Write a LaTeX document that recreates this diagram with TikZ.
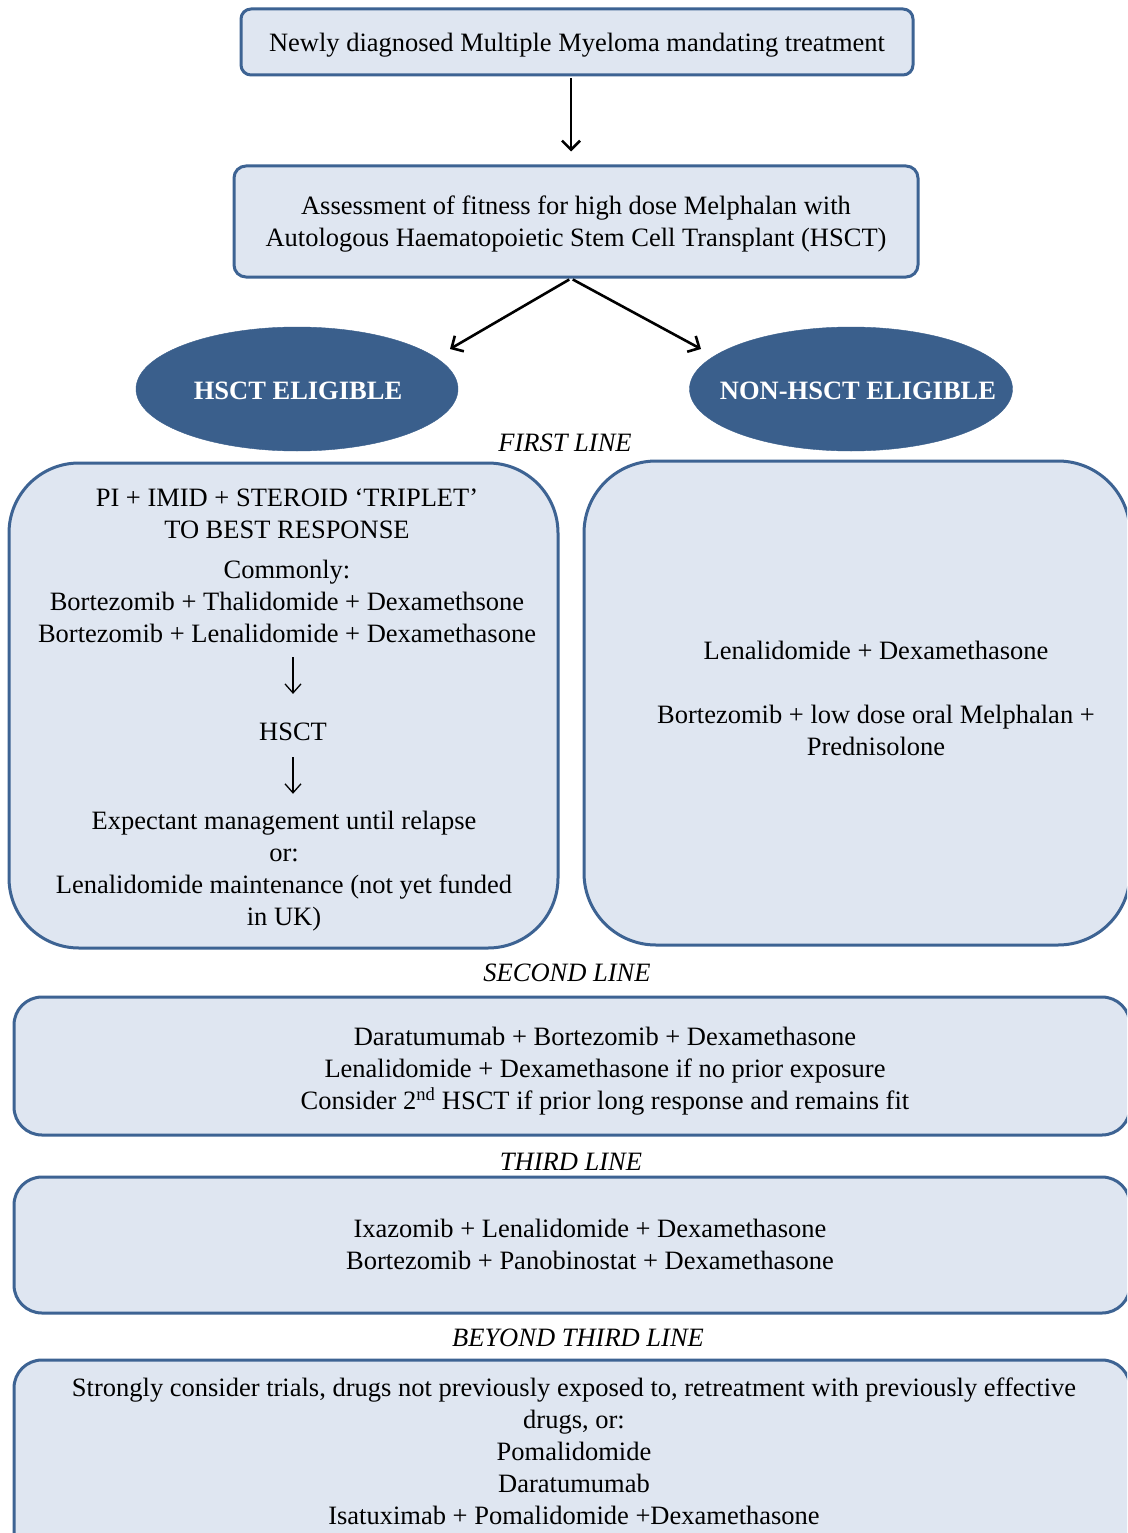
\documentclass[tikz,border=0pt]{standalone}
\usepackage{fontspec}
\setmainfont{Liberation Serif}
\usetikzlibrary{arrows.meta,shapes.geometric}
\definecolor{bd}{HTML}{3D6393}
\definecolor{fl}{HTML}{DFE6F1}
\definecolor{el}{HTML}{3A5F8C}
\begin{document}
\begin{tikzpicture}[x=1pt,y=-1pt,
  txt/.style={font=\fontsize{26.5}{32}\selectfont, align=center, inner sep=0pt},
  lbl/.style={font=\fontsize{26.5}{32}\selectfont\itshape, inner sep=0pt},
  box/.style={draw=bd, fill=fl, line width=3pt, inner sep=0pt},
  oval/.style={ellipse, fill=el, draw=el, inner sep=0pt},
  ovaltxt/.style={inner sep=0pt, text=white, font=\fontsize{26.5}{32}\selectfont\bfseries},
  bigarrow/.style={draw=black, line width=2.6pt, -{Straight Barb[length=9pt,width=18pt,line width=2.6pt]}},
  smallarrow/.style={draw=black, line width=1.3pt, -{Straight Barb[length=9pt,width=16pt,line width=1.3pt]}}]
\useasboundingbox (0,0) rectangle (1127,1533);
\clip (0,0) rectangle (1127,1533);
\fill[white] (0,0) rectangle (1127,1533);

% top boxes
\node[box, txt, text depth=0pt, rounded corners=10pt, minimum width=672pt, minimum height=66pt] (top) at (577,42)
  {Newly diagnosed Multiple Myeloma mandating treatment};
\node[box, txt, text depth=0pt, rounded corners=12pt, minimum width=684pt, minimum height=111pt] (assess) at (576,221.5)
  {Assessment of fitness for high dose Melphalan with\\Autologous Haematopoietic Stem Cell Transplant (HSCT)};

% ellipses
\node[oval, minimum width=322pt, minimum height=124pt] (elig) at (297,389) {};
\node[ovaltxt] (eligt) at (298,391) {HSCT ELIGIBLE};
\node[oval, minimum width=323pt, minimum height=124pt] (nonelig) at (851,389) {};
\node[ovaltxt] (noneligt) at (858,391) {NON-HSCT ELIGIBLE};

\coordinate (t1) at (450,349);
\coordinate (t2) at (701,349);
\draw[bigarrow, shorten >=13pt, shorten <=2pt] ([xshift=-6pt]top.south) -- ([xshift=-5pt]assess.north);
\draw[bigarrow, shorten <=2pt] ([xshift=-5pt]assess.south) -- (t1);
\draw[bigarrow, shorten <=2pt] ([xshift=-5pt]assess.south) -- (t2);

% section labels
\node[lbl] (l1) at (565,443) {FIRST LINE};
\node[lbl] (l2) at (567,973) {SECOND LINE};
\node[lbl] (l3) at (571,1162) {THIRD LINE};
\node[lbl] (l4) at (578,1338) {BEYOND THIRD LINE};

% first line boxes
\node[box, rounded corners=70pt, minimum width=549pt, minimum height=485pt] (left) at (283.5,705.5) {};
\node[box, rounded corners=72pt, minimum width=546pt, minimum height=484pt] (right) at (857,703) {};

\node[txt] (g1) at (287,566) {PI + IMID + STEROID ‘TRIPLET’\\TO BEST RESPONSE\\[8pt]Commonly:\\Bortezomib + Thalidomide + Dexamethsone\\Bortezomib + Lenalidomide + Dexamethasone};
\node[txt] (hs) at (293,732) {HSCT};
\node[txt] (g3) at (284,871) {Expectant management until relapse\\or:\\Lenalidomide maintenance (not yet funded\\in UK)};
\draw[smallarrow, shorten <=14pt, shorten >=29pt] (g1.south -| hs.north) -- (hs.north);
\draw[smallarrow, shorten <=16pt, shorten >=17pt] (hs.south) -- (g3.north -| hs.south);

\node[txt] (rt) at (876,698) {Lenalidomide + Dexamethasone\\[32pt]Bortezomib + low dose oral Melphalan +\\Prednisolone};

% second line
\node[box, rounded corners=28pt, minimum width=1116pt, minimum height=138pt] (second) at (572,1066) {};
\node[txt] (st) at (605,1071) {Daratumumab + Bortezomib + Dexamethasone\\Lenalidomide + Dexamethasone if no prior exposure\\Consider 2\textsuperscript{nd} HSCT if prior long response and remains fit};

% third line
\node[box, rounded corners=28pt, minimum width=1116pt, minimum height=136pt] (third) at (572,1245) {};
\node[txt] (tt) at (590,1244) {Ixazomib + Lenalidomide + Dexamethasone\\Bortezomib + Panobinostat + Dexamethasone};

% beyond
\node[box, rounded corners=28pt, minimum width=1116pt, minimum height=200pt] (beyond) at (572,1460) {};
\node[txt] (bt) at (574,1451) {Strongly consider trials, drugs not previously exposed to, retreatment with previously effective\\drugs, or:\\Pomalidomide\\Daratumumab\\Isatuximab + Pomalidomide +Dexamethasone};
\end{tikzpicture}
\end{document}
